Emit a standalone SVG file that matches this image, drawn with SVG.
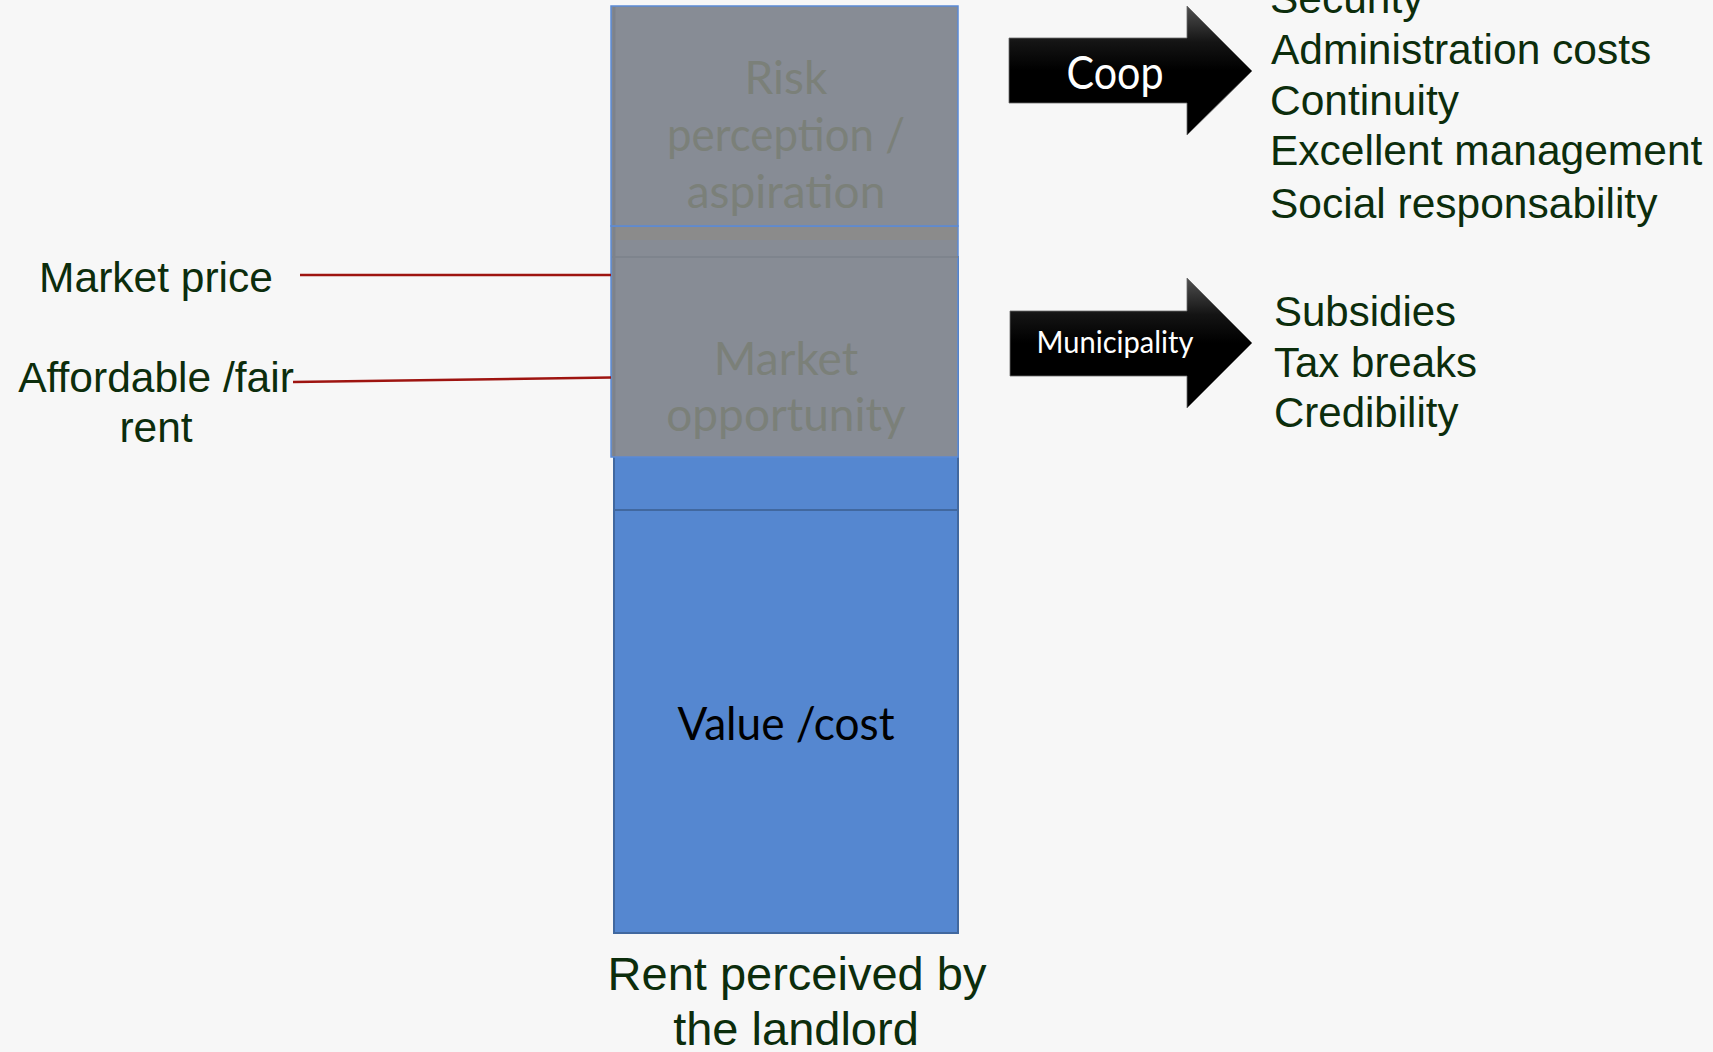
<svg xmlns="http://www.w3.org/2000/svg" width="1713" height="1052" viewBox="0 0 1713 1052">
  <style>
    .lbl { font-family: "Liberation Sans", Arial, sans-serif; fill: #0c2d0c; }
    .cal { font-family: Lato, "Open Sans", sans-serif; }
    .ghost { fill: #7b8079; font-size: 46px; text-anchor: middle; }
    .grey { fill: #878c95; stroke: #5b8ad6; stroke-width: 1.5; }
    .blue { fill: #5587d0; stroke: #41689f; stroke-width: 2; }
    .conn { stroke: #9e1410; stroke-width: 2.5; fill: none; }
    .arrow { fill: url(#arrowGrad); stroke: #6a6a6a; stroke-width: 0.8; }
  </style>
  <defs>
    <linearGradient id="arrowGrad" x1="0" y1="0" x2="0" y2="1">
      <stop offset="0" stop-color="#505050"/>
      <stop offset="0.28" stop-color="#141414"/>
      <stop offset="0.5" stop-color="#000000"/>
      <stop offset="1" stop-color="#000000"/>
    </linearGradient>
  </defs>
  <rect width="1713" height="1052" fill="#f7f7f7"/>

  <g id="node-value">
    <rect class="blue" x="614" y="257" width="344" height="676"/>
    <line x1="614" y1="510" x2="958" y2="510" stroke="#41689f" stroke-width="2"/>
    <text class="cal" x="786" y="740" font-size="47" fill="#000" text-anchor="middle" textLength="217" lengthAdjust="spacingAndGlyphs">Value /cost</text>
  </g>

  <g id="node-market-opportunity">
    <rect class="grey" x="611" y="226" width="347" height="231"/>
    <rect x="611.8" y="226.8" width="345.4" height="13.2" fill="#8b8b8b"/>
    <line x1="612" y1="257" x2="958" y2="257" stroke="#7e848d" stroke-width="2"/>
    <line x1="614" y1="227" x2="614" y2="456" stroke="#7d828b" stroke-width="3"/>
    <text class="cal ghost" x="786" y="375">Market</text>
    <text class="cal ghost" x="786" y="431">opportunity</text>
  </g>

  <g id="node-risk">
    <rect class="grey" x="611" y="6" width="347" height="220"/>
    <line x1="614" y1="7" x2="614" y2="225" stroke="#7d828b" stroke-width="3"/>
    <text class="cal ghost" x="786" y="94">Risk</text>
    <text class="cal ghost" x="786" y="151" textLength="238" lengthAdjust="spacingAndGlyphs">perception /</text>
    <text class="cal ghost" x="786" y="208">aspiration</text>
  </g>

  <g id="connectors">
    <line class="conn" x1="300" y1="275" x2="611" y2="275"/>
    <line class="conn" x1="293" y1="382" x2="611" y2="377.5"/>
  </g>

  <g id="label-market-price">
    <text class="lbl" x="156" y="292" font-size="42.5" text-anchor="middle">Market price</text>
  </g>
  <g id="label-affordable">
    <text class="lbl" x="156" y="392" font-size="42.5" text-anchor="middle">Affordable /fair</text>
    <text class="lbl" x="156" y="442" font-size="42.5" text-anchor="middle">rent</text>
  </g>

  <g id="arrow-coop">
    <polygon class="arrow" points="1009,38 1187,38 1187,6 1252,71 1187,135 1187,103 1009,103"/>
    <text class="cal" x="1115" y="89" font-size="46" fill="#fff" text-anchor="middle" textLength="97" lengthAdjust="spacingAndGlyphs">Coop</text>
  </g>

  <g id="arrow-municipality">
    <polygon class="arrow" points="1010,311 1187,311 1187,278 1252,343 1187,408 1187,376 1010,376"/>
    <text class="cal" x="1115" y="353" font-size="30" fill="#fff" text-anchor="middle" textLength="157" lengthAdjust="spacingAndGlyphs">Municipality</text>
  </g>

  <g id="list-coop" class="lbl" font-size="42.5">
    <text x="1270" y="13">Security</text>
    <text x="1271" y="64">Administration costs</text>
    <text x="1270" y="115">Continuity</text>
    <text x="1270" y="165">Excellent management</text>
    <text x="1270" y="218">Social responsability</text>
  </g>

  <g id="list-municipality" class="lbl" font-size="42">
    <text x="1274" y="326">Subsidies</text>
    <text x="1274" y="377">Tax breaks</text>
    <text x="1274" y="427">Credibility</text>
  </g>

  <g id="caption">
    <text class="lbl" x="797" y="990" font-size="47" text-anchor="middle">Rent perceived by</text>
    <text class="lbl" x="796" y="1045" font-size="47" text-anchor="middle">the landlord</text>
  </g>
</svg>
